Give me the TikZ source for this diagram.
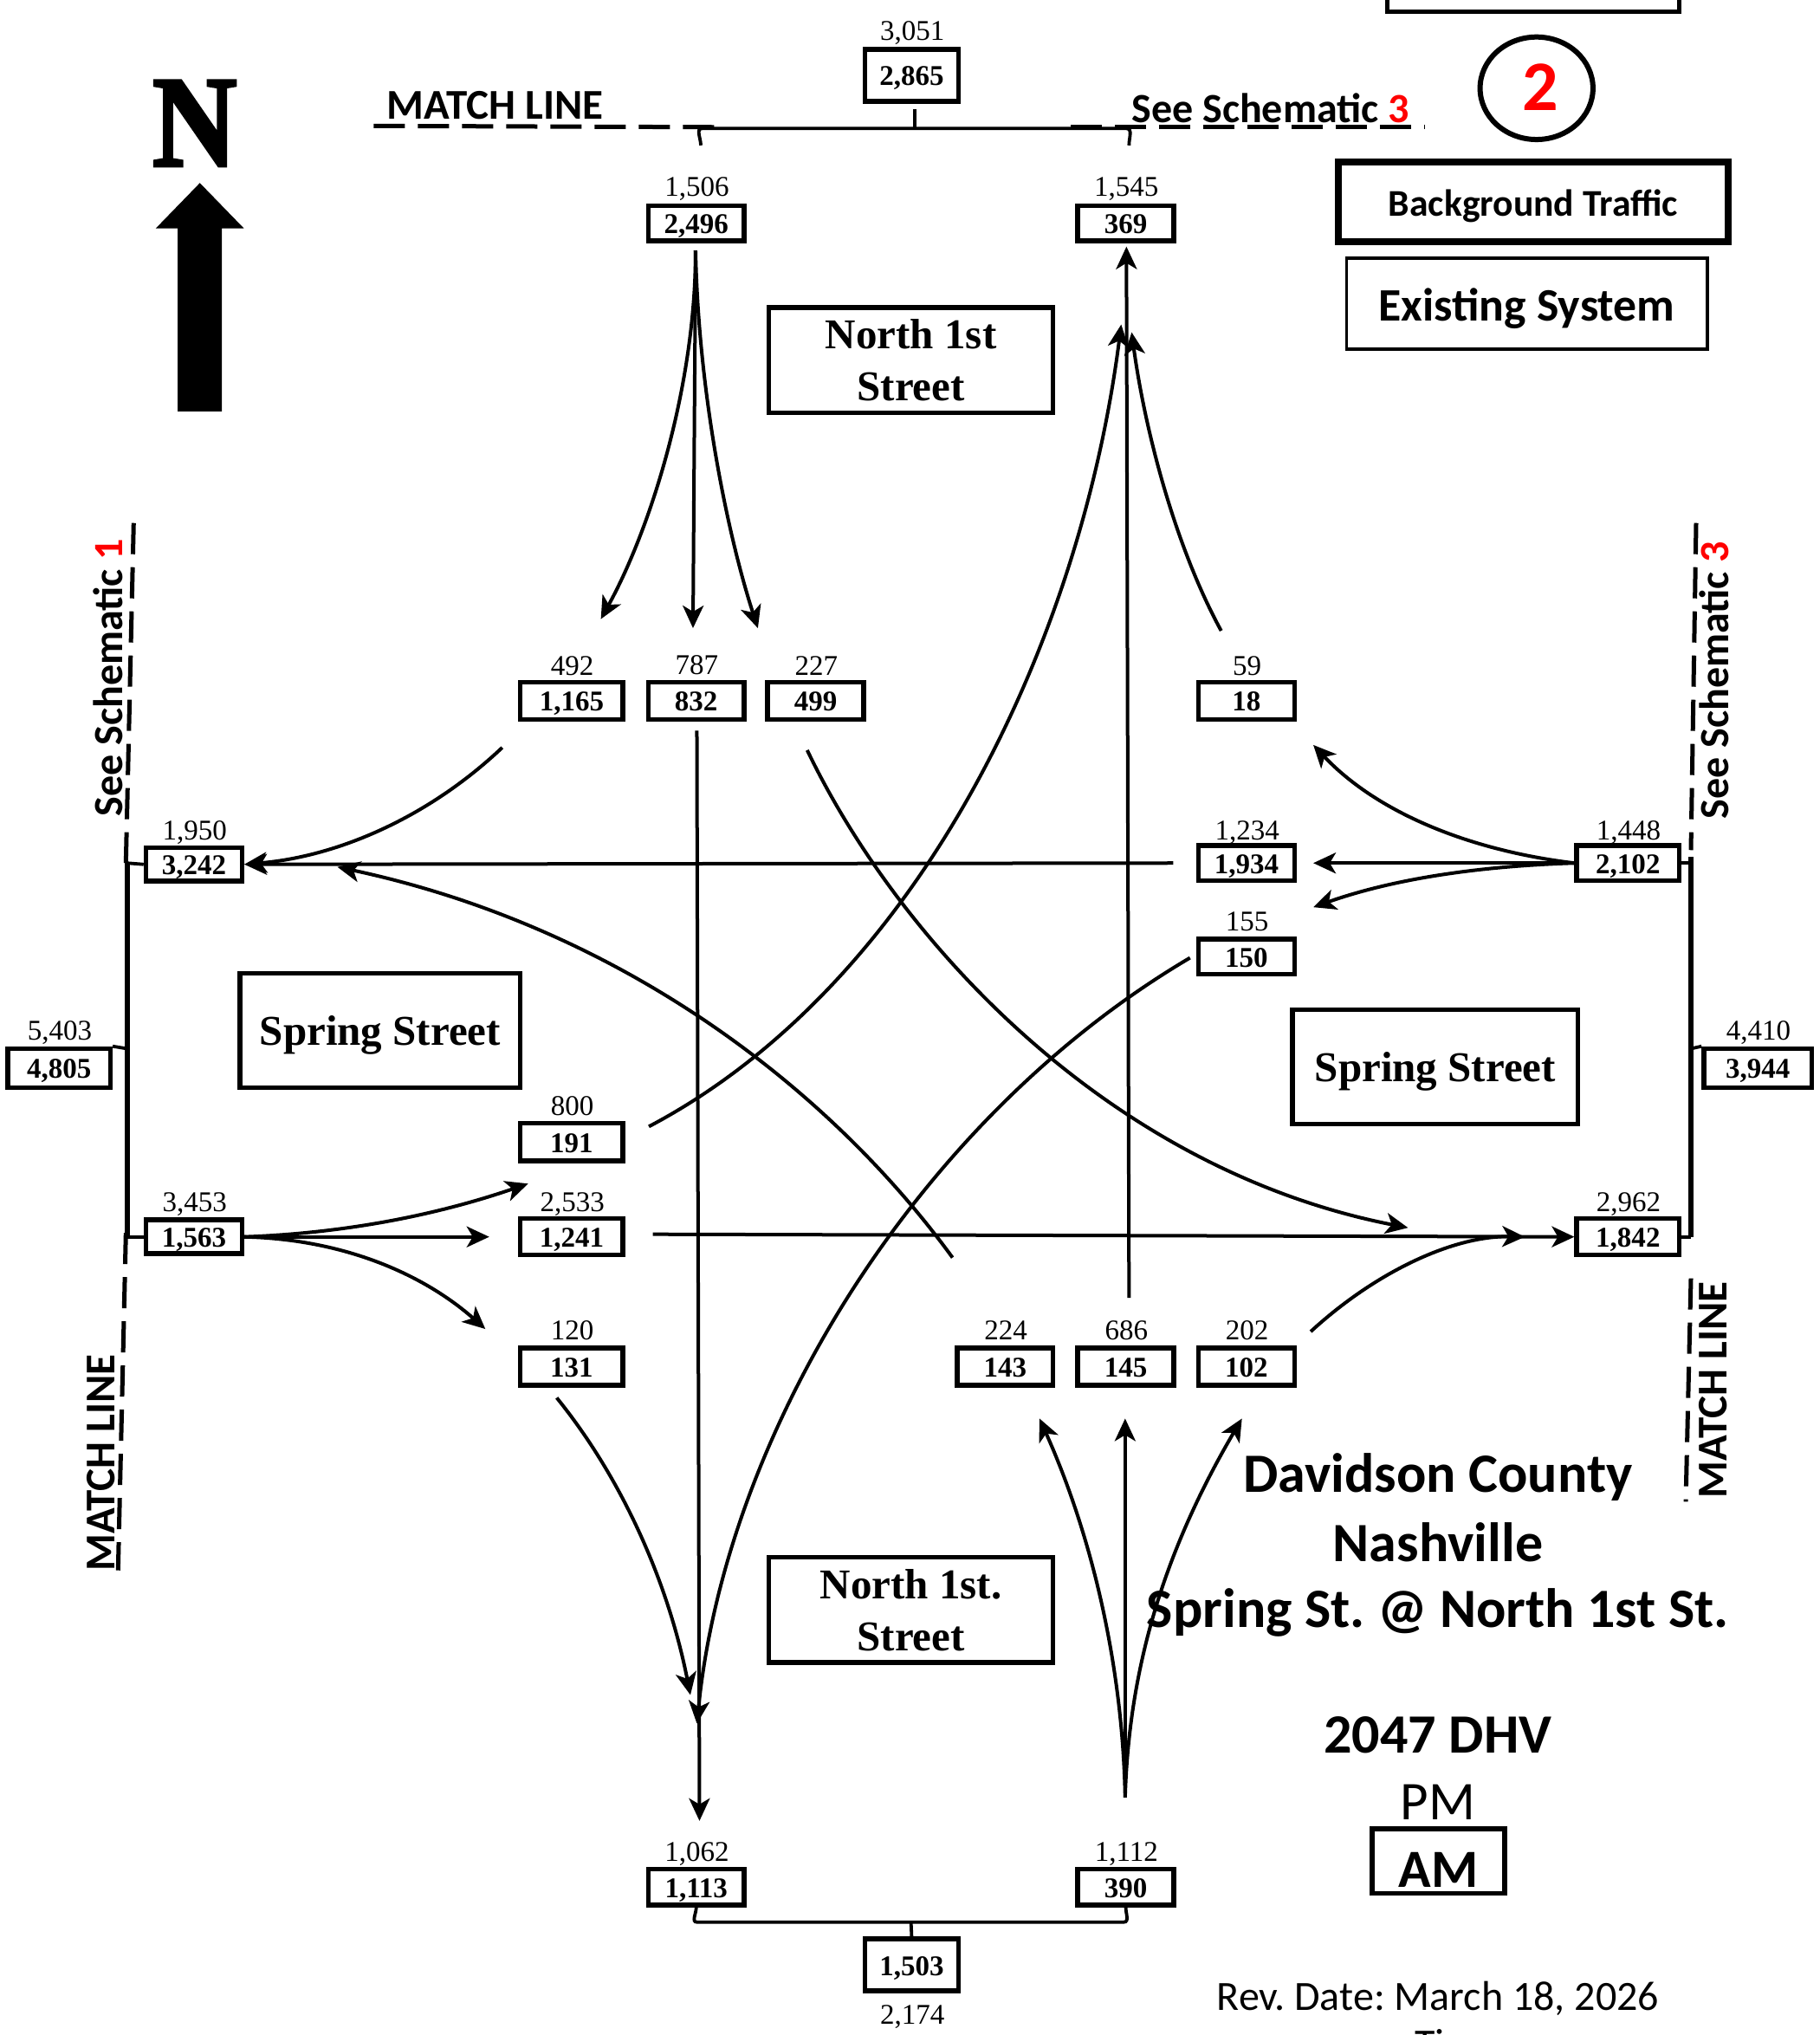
\documentclass[tikz,border=0pt]{standalone}
\usepackage{fontspec}
\setmainfont{Liberation Serif}
\newfontfamily\calfont{Carlito}
\newfontfamily\northfont[BoldFeatures={FakeBold=2.5}]{Liberation Serif}
\usetikzlibrary{arrows.meta,shapes.geometric}
\definecolor{rd}{RGB}{255,0,0}
\tikzset{
 voltop/.style={font=\fontsize{33}{33}\selectfont,inner sep=0pt,text height=22pt,text depth=0pt},
 volbox/.style={draw,line width=5.5pt,inner sep=0pt,font=\fontsize{33}{33}\selectfont\bfseries,text height=26pt,text depth=2pt},
 flow/.style={line width=4pt,-{Stealth[length=26pt,width=24pt,inset=7pt]}},
 brack/.style={line width=3.8pt},
 spine/.style={line width=5.5pt},
 matchdash/.style={line width=5pt,dash pattern=on 36pt off 15pt},
 street/.style={draw,line width=5.5pt,inner sep=0pt,font=\fontsize{49}{60}\selectfont\bfseries,align=center},
 streetone/.style={street,text height=35pt,text depth=1pt},
 calb/.style={font=\calfont\bfseries\fontsize{48}{48}\selectfont,inner sep=0pt},
 calm/.style={font=\calfont\bfseries\fontsize{49}{49}\selectfont,inner sep=0pt},
 title/.style={font=\calfont\bfseries\fontsize{64}{64}\selectfont,inner sep=0pt,anchor=base}
}
% name, cx, cy, w, h, value, top label, top-label y
\newcommand{\vol}[8]{%
 \node[volbox,minimum width={#4*1.498pt},minimum height={#5*1.498pt}] (#1) at (#2+.5,#3) {#6};
 \node[voltop] (#1t) at (#2+1,#8) {#7};}
\begin{document}
\frenchspacing
\begin{tikzpicture}[x=1.498pt,y=-1.498pt]
\useasboundingbox (0,0) rectangle (1402,1568);
\clip (0,0) rectangle (1402,1568);
% volume boxes
\vol{a}{702}{58}{72}{40}{2,865}{3,051}{24}
\vol{b}{536}{172}{74}{27}{2,496}{1,506}{144}
\vol{c}{867}{172}{74}{27}{369}{1,545}{144}
\vol{d}{440}{540}{79}{29}{1,165}{492}{513}
\vol{e}{536}{540}{74}{29}{832}{787}{512}
\vol{f}{628}{540}{74}{29}{499}{227}{513}
\vol{g}{960}{540}{74}{29}{18}{59}{513}
\vol{h}{149}{666}{74}{26}{3,242}{1,950}{640}
\vol{i}{960}{665}{74}{27}{1,934}{1,234}{640}
\vol{j}{960}{737}{74}{27}{150}{155}{710}
\vol{k}{1254}{665}{79}{27}{2,102}{1,448}{640}
\vol{l}{45}{823}{79}{30}{4,805}{5,403}{794}
\vol{m}{1354}{823}{83}{30}{3,944}{4,410}{794}
\vol{n}{440}{880}{79}{29}{191}{800}{852}
\vol{o}{149}{953}{74}{26}{1,563}{3,453}{926}
\vol{p}{440}{953}{79}{28}{1,241}{2,533}{926}
\vol{q}{1254}{953}{79}{28}{1,842}{2,962}{926}
\vol{r}{440}{1053}{79}{29}{131}{120}{1025}
\vol{s}{774}{1053}{74}{29}{143}{224}{1025}
\vol{t}{867}{1053}{74}{29}{145}{686}{1025}
\vol{u}{960}{1053}{74}{29}{102}{202}{1025}
\vol{v}{536}{1454}{74}{28}{1,113}{1,062}{1427}
\vol{w}{867}{1454}{74}{28}{390}{1,112}{1427}
\vol{x}{702}{1514}{72}{40}{1,503}{2,174}{1552}
% street labels
\node[street,minimum width={219*1.498pt},minimum height={81*1.498pt}] (ns1) at (702,277.5) {North 1st\\Street};
\node[street,minimum width={219*1.498pt},minimum height={81*1.498pt}] (ns2) at (702,1240.5) {North 1st.\\Street};
\node[streetone,minimum width={216*1.498pt},minimum height={88*1.498pt}] (sp1) at (293,794) {Spring Street};
\node[streetone,minimum width={220*1.498pt},minimum height={88*1.498pt}] (sp2) at (1106,822) {Spring Street};
% north arrow
\node[inner sep=0pt,font=\northfont\fontsize{150}{150}\selectfont\bfseries,xscale=.9] (north) at (150,95) {N};
\fill (154,141) -- (188,176) -- (171,176) -- (171,317) -- (137,317) -- (137,176) -- (120,176) -- cycle;
% legend
\draw[line width=5pt] (1069,-12) rectangle (1294,9);
\node[draw,ellipse,line width=6pt,minimum width={87*1.498pt},minimum height={79*1.498pt},inner sep=0pt] (num) at (1184,68) {};
\node[text=rd,inner sep=0pt,font=\calfont\bfseries\fontsize{82}{82}\selectfont] (numt) at (1187,67) {2};
\node[draw,line width=8pt,minimum width={301*1.498pt},minimum height={62*1.498pt},inner sep=0pt,text height=33pt,text depth=0pt,font=\calfont\bfseries\fontsize{43.6}{44}\selectfont] (bg) at (1181.5,155.5) {Background Traffic};
\node[draw,line width=3.5pt,minimum width={278*1.498pt},minimum height={70*1.498pt},inner sep=0pt,text height=39pt,text depth=0pt,font=\calfont\bfseries\fontsize{53.7}{54}\selectfont] (ex) at (1176.5,234) {Existing System};
% right-hand titles
\node[title] (t1) at (1108,1150) {Davidson County};
\node[title] (t2) at (1108,1203) {Nashville};
\node[title] (t3) at (1108,1254) {Spring St. @ North 1st St.};
\node[title] (t4) at (1108,1351) {2047 DHV};
\node[inner sep=0pt,anchor=base,font=\calfont\fontsize{63}{63}\selectfont] (pm) at (1108,1402) {PM};
\node[draw,line width=5.5pt,minimum width={102*1.498pt},minimum height={50*1.498pt},inner sep=0pt,text height=61pt,text depth=0pt,font=\calfont\bfseries\fontsize{62}{62}\selectfont] (am) at (1108.5,1434) {AM};
\node[inner sep=0pt,anchor=base,font=\calfont\fontsize{48}{48}\selectfont] (rev) at (1108,1549) {Rev. Date: March 18, 2026};
\node[anchor=base west,inner sep=0pt,font=\calfont\fontsize{48}{48}\selectfont] (ti) at (1090,1586) {Ti};
% match-line labels
\node[calm,anchor=west] (ml1) at (298,81) {MATCH LINE};
\node[calb,anchor=east] (ss3) at (1086,83) {See Schematic \textcolor{rd}{3}};
\node[calb,rotate=90] (ss1) at (83.5,522) {See Schematic \textcolor{rd}{1}};
\node[calm,rotate=90] (ml2) at (78,1127) {MATCH LINE};
\node[calb,rotate=90] (ss4) at (1321,524) {See Schematic \textcolor{rd}{3}};
\node[calm,rotate=90] (ml3) at (1320,1071) {MATCH LINE};
% named free ends
\coordinate (dA1) at (288,97); \coordinate (dA2) at (560,98);
\coordinate (dB1) at (825,98); \coordinate (dB2) at (1098,98);
\coordinate (dC1) at (103,403); \coordinate (dC2) at (97,665);
\coordinate (dD1) at (97,950); \coordinate (dD2) at (91,1210);
\coordinate (dE1) at (1307,403); \coordinate (dE2) at (1303,655);
\coordinate (dF1) at (1303,985); \coordinate (dF2) at (1299,1157);
\draw[matchdash] (dA1) -- (dA2);
\draw[matchdash] (dB1) -- (dB2);
\draw[matchdash] (dC1) -- (dC2);
\draw[matchdash] (dD1) -- (dD2);
\draw[matchdash] (dE1) -- (dE2);
\draw[matchdash] (dF1) -- (dF2);
% top bracket
\coordinate (tL) at (540,112); \coordinate (tLc) at (541,99);
\coordinate (tR) at (870,112); \coordinate (tRc) at (868,99);
\coordinate (tM) at (705,84);  \coordinate (tMc) at (705,99);
\draw[brack] (tL) to[out=88,in=180] (tLc) -- (tRc) to[out=0,in=92] (tR);
\draw[brack] (tM) -- (tMc);
% bottom bracket
\coordinate (bLc) at (537,1481); \coordinate (bRc) at (866,1481); \coordinate (bMc) at (702,1481);
\draw[brack] (v.south) to[out=-90,in=180] (bLc) -- (bRc) to[out=0,in=-90] (w.south);
\draw[brack] (bMc) -- (x.north);
% side spines
\coordinate (sL1) at (98,665); \coordinate (sL2) at (98,953); \coordinate (sLm) at (98,808);
\coordinate (sR1) at (1303,660); \coordinate (sR2) at (1303,953); \coordinate (sRm) at (1303,808);
\draw[spine] (sL1) -- (sL2);
\draw[spine] (sR1) -- (sR2);
\draw[brack] (sL1) -- (h.west);
\draw[brack] (sL2) -- (o.west);
\draw[brack] (sLm) -- (l.north east);
\draw[brack] (sR1 |- k.east) -- (k.east);
\draw[brack] (sR2 |- q.east) -- (q.east);
\draw[brack] (sRm) -- (m.north west);
% southbound approach
\coordinate (b0) at (536,193); \coordinate (b1) at (463,477); \coordinate (b2) at (534,484); \coordinate (b3) at (584,484);
\draw[flow] (b0) .. controls (536,300) and (500,410) .. (b1);
\draw[flow] (b0) -- (b2);
\draw[flow] (b0) .. controls (538,300) and (560,410) .. (b3);
% northbound entry
\coordinate (w0) at (867,1385); \coordinate (w1) at (801,1093); \coordinate (w2) at (867,1093); \coordinate (w3) at (957,1093);
\draw[flow] (w0) .. controls (865,1280) and (840,1180) .. (w1);
\draw[flow] (w0) -- (w2);
\draw[flow] (w0) .. controls (870,1280) and (900,1190) .. (w3);
% westbound entry
\coordinate (k1) at (1012,574); \coordinate (k2) at (1012,665); \coordinate (k3) at (1012,699);
\draw[flow] (k.west) .. controls (1130,655) and (1060,625) .. (k1);
\draw[flow] (k.west) -- (k2);
\draw[flow] (k.west) .. controls (1120,668) and (1060,682) .. (k3);
% eastbound entry
\coordinate (o1) at (407,912); \coordinate (o2) at (377,953); \coordinate (o3) at (374,1024);
\draw[flow] (o.east) .. controls (270,950) and (340,935) .. (o1);
\draw[flow] (o.east) -- (o2);
\draw[flow] (o.east) .. controls (270,955) and (330,985) .. (o3);
% through movements
\coordinate (e0) at (537,563); \coordinate (e1) at (539,1403);
\draw[flow] (e0) -- (e1);
\coordinate (t0) at (870,1000); \coordinate (t1e) at (868,190);
\draw[flow] (t0) -- (t1e);
\coordinate (i0) at (904,665);
\draw[flow] (i0) -- (h.east);
\coordinate (p0) at (503,951);
\draw[flow] (p0) -- (q.west);
% turning movements
\coordinate (d0) at (387,576);
\draw[flow] (d0) .. controls (330,630) and (260,660) .. (h.east);
\coordinate (s0) at (734,969); \coordinate (s1) at (260,668);
\draw[flow] (s0) .. controls (640,840) and (480,715) .. (s1);
\coordinate (f0) at (622,578); \coordinate (f1) at (1085,946);
\draw[flow] (f0) .. controls (690,720) and (850,900) .. (f1);
\coordinate (n0) at (500,868); \coordinate (n1) at (864,250);
\draw[flow] (n0) .. controls (705,760) and (832,500) .. (n1);
\coordinate (g0) at (941,486); \coordinate (g1) at (872,256);
\draw[flow] (g0) .. controls (905,420) and (882,330) .. (g1);
\coordinate (j0) at (917,738); \coordinate (j1) at (537,1328);
\draw[flow] (j0) .. controls (710,860) and (560,1100) .. (j1);
\coordinate (r0) at (429,1077); \coordinate (r1) at (532,1306);
\draw[flow] (r0) .. controls (480,1140) and (515,1220) .. (r1);
\coordinate (u0) at (1010,1026); \coordinate (u1) at (1175,953);
\draw[flow] (u0) .. controls (1060,980) and (1120,952) .. (u1);
\end{tikzpicture}
\end{document}
